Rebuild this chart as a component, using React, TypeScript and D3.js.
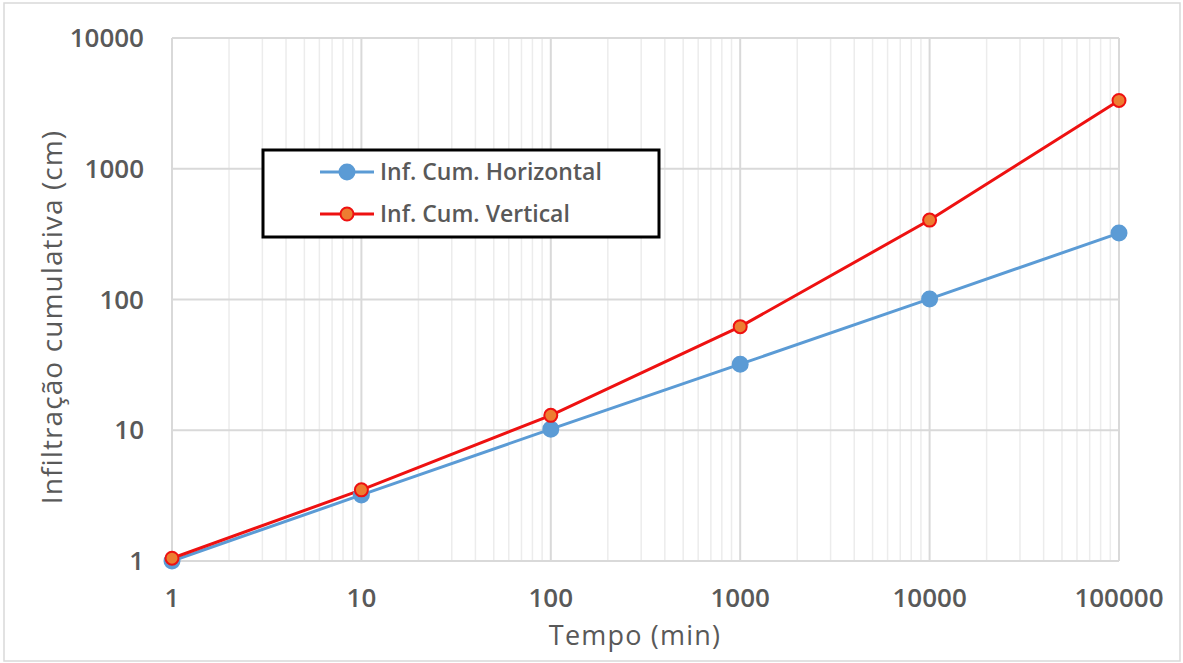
import React, { useEffect, useRef } from "react";
import * as d3 from "d3";

const tempo = [1, 10, 100, 1000, 10000, 100000];
const infHorizontal = [1.0, 3.2, 10.2, 32, 101, 322];
const infVertical = [1.05, 3.5, 13, 62, 405, 3330];
const xTicks = [1, 10, 100, 1000, 10000, 100000];
const yTicks = [1, 10, 100, 1000, 10000];

const seriesList = [
  { name: "Inf. Cum. Horizontal", values: infHorizontal, stroke: "#5b9bd5", fill: "#5b9bd5", mStroke: "#5b9bd5", r: 7.5 },
  { name: "Inf. Cum. Vertical", values: infVertical, stroke: "#ee1111", fill: "#ed7d31", mStroke: "#ee1111", r: 6.5 },
];

const App = () => {
  const svgRef = useRef<SVGSVGElement>(null);

  useEffect(() => {
    const width = 1183;
    const height = 663;
    const margin = { top: 38, right: 64, bottom: 104, left: 172 };
    const font = "'Open Sans', 'Noto Sans', sans-serif";

    const svg = d3.select(svgRef.current).attr("width", width).attr("height", height);
    svg.selectAll("*").remove();

    svg.append("rect")
      .attr("x", 4).attr("y", 3).attr("width", width - 7).attr("height", height - 5)
      .attr("fill", "#fff").attr("stroke", "#d9d9d9").attr("stroke-width", 1.5);

    const x = d3.scaleLog().domain([1, 100000]).range([margin.left, width - margin.right]);
    const y = d3.scaleLog().domain([1, 10000]).range([height - margin.bottom + 2, margin.top]);

    // minor vertical gridlines
    const minor: number[] = [];
    for (let d = 1; d < 100000; d *= 10) {
      for (let k = 2; k <= 9; k++) minor.push(d * k);
    }
    svg.append("g").selectAll("line").data(minor).join("line")
      .attr("x1", d => x(d)).attr("x2", d => x(d))
      .attr("y1", y(10000)).attr("y2", y(1))
      .attr("stroke", "#ececec").attr("stroke-width", 1.5);

    // major gridlines
    svg.append("g").selectAll("line").data(xTicks).join("line")
      .attr("x1", d => x(d)).attr("x2", d => x(d))
      .attr("y1", y(10000)).attr("y2", y(1))
      .attr("stroke", "#d9d9d9").attr("stroke-width", 2);
    svg.append("g").selectAll("line").data(yTicks).join("line")
      .attr("x1", x(1)).attr("x2", x(100000))
      .attr("y1", d => y(d)).attr("y2", d => y(d))
      .attr("stroke", "#d9d9d9").attr("stroke-width", 2);

    // tick labels
    svg.append("g").selectAll("text").data(yTicks).join("text")
      .attr("x", margin.left - 28).attr("y", d => y(d))
      .attr("dy", "0.35em").attr("text-anchor", "end")
      .style("font-family", font).style("font-size", "26px").style("font-weight", 600)
      .attr("fill", "#595959").text(d => String(d));
    svg.append("g").selectAll("text").data(xTicks).join("text")
      .attr("x", d => x(d)).attr("y", 598)
      .attr("dy", "0.35em").attr("text-anchor", "middle")
      .style("font-family", font).style("font-size", "26px").style("font-weight", 600)
      .attr("fill", "#595959").text(d => String(d));

    // axis titles
    svg.append("text")
      .attr("x", 635).attr("y", 636).attr("dy", "0.35em")
      .attr("text-anchor", "middle")
      .style("font-family", font).style("font-size", "27px").style("letter-spacing", "1.2px")
      .attr("fill", "#595959").text("Tempo (min)");
    svg.append("text")
      .attr("transform", "translate(52, 317) rotate(-90)")
      .attr("dy", "0.35em").attr("text-anchor", "middle")
      .style("font-family", font).style("font-size", "28px").style("letter-spacing", "1.1px")
      .attr("fill", "#595959").text("Infiltração cumulativa (cm)");

    // lines + markers
    const line = d3.line<number>()
      .x((_, i) => x(tempo[i]))
      .y(d => y(d));

    seriesList.forEach(s => {
      svg.append("path").datum(s.values)
        .attr("fill", "none").attr("stroke", s.stroke).attr("stroke-width", 3)
        .attr("d", line);
    });
    seriesList.forEach(s => {
      svg.append("g").selectAll("circle").data(s.values).join("circle")
        .attr("cx", (_, i) => x(tempo[i])).attr("cy", d => y(d))
        .attr("r", s.r).attr("fill", s.fill)
        .attr("stroke", s.mStroke).attr("stroke-width", 2);
    });

    // legend
    const legend = svg.append("g").attr("transform", "translate(263,150)");
    legend.append("rect")
      .attr("width", 396).attr("height", 87)
      .attr("fill", "#fff").attr("stroke", "#000").attr("stroke-width", 3);
    seriesList.forEach((s, i) => {
      const row = legend.append("g").attr("transform", `translate(0, ${22 + i * 42})`);
      row.append("line").attr("x1", 57).attr("x2", 111)
        .attr("stroke", s.stroke).attr("stroke-width", 3);
      row.append("circle").attr("cx", 84).attr("r", s.r)
        .attr("fill", s.fill).attr("stroke", s.mStroke).attr("stroke-width", 2);
      row.append("text").attr("x", 117).attr("dy", "0.35em")
        .style("font-family", font).style("font-size", "23px").style("font-weight", 600)
        .attr("fill", "#595959").text(s.name);
    });
  }, []);

  return <svg ref={svgRef} style={{ position: "absolute", left: 0, top: 0 }}></svg>;
};

export default App;
